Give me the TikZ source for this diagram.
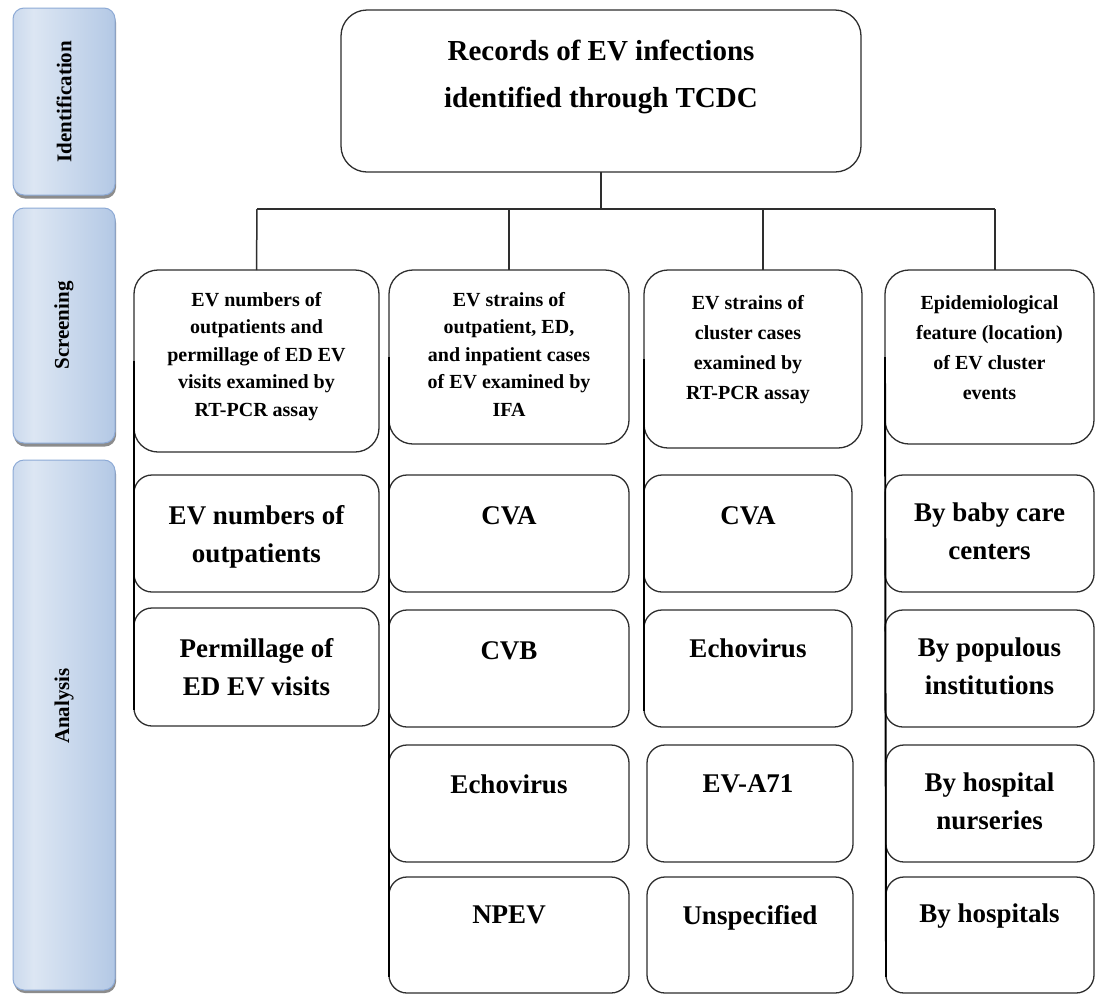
\documentclass[tikz,border=0pt]{standalone}
\usepackage{fontspec}
\setmainfont{Liberation Serif}
\usetikzlibrary{calc}
\definecolor{linec}{HTML}{2E2E2E}
\definecolor{barA}{HTML}{9FB9DE}
\definecolor{barB}{HTML}{DCE6F3}
\definecolor{barC}{HTML}{8EADD8}
\definecolor{barD}{HTML}{8DAAD6}
\pgfdeclarehorizontalshading{barshade}{100bp}{color(0bp)=(barA); color(8bp)=(barA!75!barB); color(35bp)=(barB); color(70bp)=(barB!55!barC); color(100bp)=(barC)}
\begin{document}
\begin{tikzpicture}[x=1pt,y=-1pt,
  bar/.style={draw=barD, line width=1pt, rounded corners=11pt, shading=barshade, minimum width=102, inner sep=0},
  barshadow/.style={fill=black!45, rounded corners=11pt, minimum width=102, inner sep=0},
  vtxt/.style={font=\bfseries\fontsize{21}{24}\selectfont, rotate=90, inner sep=0},
  tbox/.style={draw=linec, line width=1.3pt, rounded corners=26pt, fill=white, inner sep=0, outer sep=0},
  sbox/.style={draw=linec, line width=1.3pt, rounded corners=24pt, fill=white, inner sep=0, outer sep=0},
  abox/.style={draw=linec, line width=1.3pt, rounded corners=18pt, fill=white, inner sep=0, outer sep=0},
  ttxt/.style={font=\bfseries\fontsize{29}{47}\selectfont, align=center, inner sep=0, anchor=north},
  stxt/.style={font=\bfseries\fontsize{20}{27.5}\selectfont, align=center, inner sep=0, anchor=north},
  stxtb/.style={font=\bfseries\fontsize{20}{30}\selectfont, align=center, inner sep=0, anchor=north},
  atxt/.style={font=\bfseries\fontsize{27}{38}\selectfont, align=center, inner sep=0, anchor=north},
  conn/.style={draw=linec, line width=1.5pt},
  vconn/.style={draw=black, line width=1.9pt}
]
\useasboundingbox[fill=white] (0,0) rectangle (1096,994);

% ---- left bars ----
\node[barshadow, minimum height=187] (idsh) at (65,105) {};
\node[bar, minimum height=187] (idbar) at (64,101.5) {};
\node[vtxt] (idtxt) at (idbar.center) {Identification};
\node[barshadow, minimum height=235] (scsh) at (65,329) {};
\node[bar, minimum height=235] (scbar) at (64,325.5) {};
\node[vtxt] (sctxt) at (scbar.center) {Screening};
\node[barshadow, minimum height=530] (ansh) at (65,728) {};
\node[bar, minimum height=530] (anbar) at (64,725) {};
\node[vtxt] (antxt) at (64,706) {Analysis};

\coordinate (hl) at (257,209);
\coordinate (hr) at (995,209);
\coordinate (d2) at (509,209);
\coordinate (d3) at (763,209);

% ---- top box ----
\node[tbox, minimum width=520, minimum height=162] (top) at (601,91) {};
\node[ttxt] (toptxt) at (601,40) {Records of EV infections\\identified through TCDC};

% ---- screening boxes ----
\node[sbox, minimum width=245, minimum height=182] (s1) at (256.5,361) {};
\node[sbox, minimum width=240, minimum height=174] (s2) at (509,357) {};
\node[sbox, minimum width=218, minimum height=178] (s3) at (753,359) {};
\node[sbox, minimum width=209, minimum height=174] (s4) at (989.5,357) {};

% ---- analysis boxes ----
\node[abox, minimum width=245, minimum height=117] (a11) at (256.5,533.5) {};
\node[abox, minimum width=245, minimum height=118] (a12) at (256.5,667) {};
\node[abox, minimum width=240, minimum height=117] (a21) at (509,533.5) {};
\node[abox, minimum width=240, minimum height=117] (a22) at (509,668.5) {};
\node[abox, minimum width=240, minimum height=117] (a23) at (509,803.5) {};
\node[abox, minimum width=240, minimum height=116] (a24) at (509,935) {};
\node[abox, minimum width=208, minimum height=117] (a31) at (748,533.5) {};
\node[abox, minimum width=208, minimum height=117] (a32) at (748,668.5) {};
\node[abox, minimum width=206, minimum height=117] (a33) at (750,803.5) {};
\node[abox, minimum width=206, minimum height=116] (a34) at (750,935) {};
\node[abox, minimum width=209, minimum height=117] (a41) at (989.5,533.5) {};
\node[abox, minimum width=209, minimum height=117] (a42) at (989.5,668.5) {};
\node[abox, minimum width=208, minimum height=117] (a43) at (990,803.5) {};
\node[abox, minimum width=208, minimum height=116] (a44) at (990,935) {};

% ---- tree lines ----
\draw[conn] (top.south) -- (top.south |- hl);
\draw[conn] (hl) -- (hr);
\draw[conn] (hl) -- (s1.north);
\draw[conn] (d2) -- (s2.north);
\draw[conn] (d3) -- (d3 |- s3.north);
\draw[conn] (hr) -- (hr |- s4.north);
\draw[vconn] (s1.west) -- ($(a12.south west)+(0,-16)$);
\draw[vconn] (s2.west) -- ($(a24.south west)+(0,-16)$);
\draw[vconn] (s3.west) -- ($(a32.south west)+(0,-16)$);
\draw[vconn] (s4.west) -- ($(a44.south west)+(0,-16)$);

% ---- screening texts ----
\node[stxt] (s1t) at (256.5,292) {EV numbers of\\outpatients and\\permillage of ED EV\\visits examined by\\RT-PCR assay};
\node[stxt] (s2t) at (509,292) {EV strains of\\outpatient, ED,\\and inpatient cases\\of EV examined by\\IFA};
\node[stxtb] (s3t) at (748,295) {EV strains of\\cluster cases\\examined by\\RT-PCR assay};
\node[stxtb] (s4t) at (989.5,295) {Epidemiological\\feature (location)\\of EV cluster\\events};

% ---- analysis texts ----
\node[atxt] (a11t) at (256.5,505) {EV numbers of\\outpatients};
\node[atxt] (a12t) at (256.5,638) {Permillage of\\ED EV visits};
\node[atxt] (a21t) at (509,506) {CVA};
\node[atxt] (a22t) at (509,641) {CVB};
\node[atxt] (a23t) at (509,775) {Echovirus};
\node[atxt] (a24t) at (509,906) {NPEV};
\node[atxt] (a31t) at (748,506) {CVA};
\node[atxt] (a32t) at (748,639) {Echovirus};
\node[atxt] (a33t) at (748,774) {EV-A71};
\node[atxt] (a34t) at (750,905) {Unspecified};
\node[atxt] (a41t) at (989.5,503) {By baby care\\centers};
\node[atxt] (a42t) at (989.5,638) {By populous\\institutions};
\node[atxt] (a43t) at (989.5,773) {By hospital\\nurseries};
\node[atxt] (a44t) at (989.5,904) {By hospitals};
\end{tikzpicture}
\end{document}
